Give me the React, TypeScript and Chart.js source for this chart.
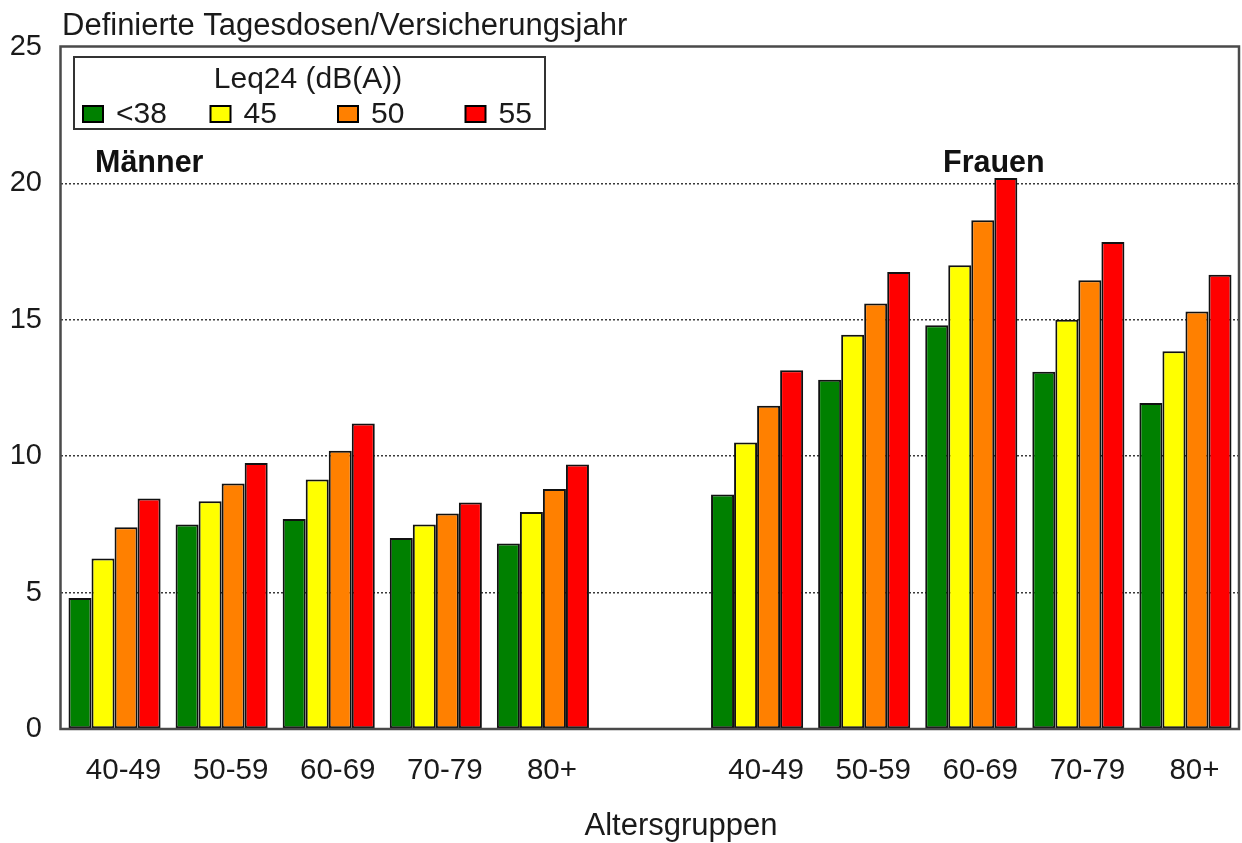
import React, { useEffect, useRef } from "react";
import { Chart, registerables } from "chart.js";

Chart.register(...registerables);

const categories = ["40-49", "50-59", "60-69", "70-79", "80+", "", "40-49", "50-59", "60-69", "70-79", "80+"];
const seriesLabels = ["<38", "45", "50", "55"];
const seriesColors = ["#008000", "#FFFF00", "#FF8000", "#FF0000"];
const valuesLt38 = [4.8, 7.5, 7.7, 7.0, 6.8, null, 8.6, 12.8, 14.8, 13.1, 11.95];
const values45 = [6.25, 8.35, 9.15, 7.5, 7.95, null, 10.5, 14.45, 17.0, 15.0, 13.85];
const values50 = [7.4, 9.0, 10.2, 7.9, 8.8, null, 11.85, 15.6, 18.65, 16.45, 15.3];
const values55 = [8.45, 9.75, 11.2, 8.3, 9.7, null, 13.15, 16.75, 20.2, 17.85, 16.65];
const yTicks = [0, 5, 10, 15, 20, 25];
const legendTitle = "Leq24 (dB(A))";
const yTitle = "Definierte Tagesdosen/Versicherungsjahr";
const xTitle = "Altersgruppen";
const groupLabels = ["Männer", "Frauen"];

const FONT = "'Liberation Sans', Arial, Helvetica, sans-serif";

const decorPlugin = {
  id: "decor",
  afterDraw(chart: any) {
    const ctx = chart.ctx;
    const ca = chart.chartArea;
    ctx.save();
    // frame
    ctx.strokeStyle = "#4a4a4a";
    ctx.lineWidth = 2.5;
    ctx.strokeRect(ca.left - 0.5, ca.top - 0.5, ca.right - ca.left + 0.5, ca.bottom - ca.top + 0.5);

    // y title at top
    ctx.fillStyle = "#1a1a1a";
    ctx.font = `31px ${FONT}`;
    ctx.textAlign = "left";
    ctx.textBaseline = "alphabetic";
    ctx.fillText(yTitle, ca.left + 1, 35);

    // x title
    ctx.textAlign = "center";
    ctx.textBaseline = "middle";
    ctx.fillText(xTitle, 681, 826);

    // group labels
    ctx.textAlign = "left";
    ctx.textBaseline = "alphabetic";
    ctx.font = `bold 30.5px ${FONT}`;
    ctx.fillStyle = "#111";
    ctx.fillText(groupLabels[0], 95, 172);
    ctx.fillText(groupLabels[1], 943, 172);

    // legend
    const lx = 74, ly = 57, lw = 471, lh = 72;
    ctx.fillStyle = "#fff";
    ctx.fillRect(lx, ly, lw, lh);
    ctx.strokeStyle = "#333";
    ctx.lineWidth = 2;
    ctx.strokeRect(lx, ly, lw, lh);
    ctx.fillStyle = "#1a1a1a";
    ctx.font = `30px ${FONT}`;
    ctx.textAlign = "center";
    ctx.fillText(legendTitle, 308, 88);
    ctx.textAlign = "left";
    chart.data.datasets.forEach((ds: any, i: number) => {
      const bx = 83 + i * 127.5;
      ctx.fillStyle = ds.backgroundColor;
      ctx.fillRect(bx, 106, 20, 16);
      ctx.strokeStyle = "#000";
      ctx.lineWidth = 2;
      ctx.strokeRect(bx, 106, 20, 16);
      ctx.fillStyle = "#1a1a1a";
      ctx.fillText(ds.label, bx + 33, 123);
    });
    ctx.restore();
  },
};

export default function App() {
  const ref = useRef<HTMLCanvasElement | null>(null);
  useEffect(() => {
    if (!ref.current) return;
    const seriesValues = [valuesLt38, values45, values50, values55];
    const chart = new Chart(ref.current, {
      type: "bar",
      data: {
        labels: categories,
        datasets: seriesLabels.map((l, i) => ({
          label: l,
          data: seriesValues[i] as any,
          backgroundColor: seriesColors[i],
          borderColor: "#111",
          borderWidth: 2,
          borderSkipped: false,
          categoryPercentage: 0.86,
          barPercentage: 1.0,
        })),
      },
      options: {
        animation: false,
        responsive: false,
        maintainAspectRatio: false,
        layout: { padding: { left: 0, right: 3, top: 47, bottom: 0 } },
        plugins: {
          legend: { display: false },
          title: { display: false },
          tooltip: { enabled: false },
        },
        scales: {
          x: {
            type: "category",
            grid: { display: false, drawTicks: false },
            border: { display: false },
            ticks: {
              color: "#1a1a1a",
              font: { family: FONT, size: 29.5 },
              padding: 24,
              labelOffset: 9,
              maxRotation: 0,
              autoSkip: false,
            },
            afterFit: (s: any) => {
              s.height = 114;
            },
          },
          y: {
            min: 0,
            max: 25,
            afterBuildTicks: (s: any) => {
              s.ticks = yTicks.map((v) => ({ value: v }));
            },
            grid: {
              drawTicks: false,
              color: (c: any) =>
                c.tick && (c.tick.value === 0 || c.tick.value === 25) ? "rgba(0,0,0,0)" : "#3a3a3a",
              lineWidth: 1.5,
            },
            border: { display: false, dash: [2, 2] },
            ticks: {
              color: "#1a1a1a",
              font: { family: FONT, size: 29 },
              padding: 19,
            },
            afterFit: (s: any) => {
              s.width = 61;
            },
          },
        },
      },
      plugins: [decorPlugin],
    });
    return () => chart.destroy();
  }, []);
  return (
    <div style={{ position: "absolute", left: 0, top: 0, width: 1242, height: 843, background: "#fff" }}>
      <canvas ref={ref} width={1242} height={843} style={{ width: 1242, height: 843, display: "block" }} />
    </div>
  );
}
